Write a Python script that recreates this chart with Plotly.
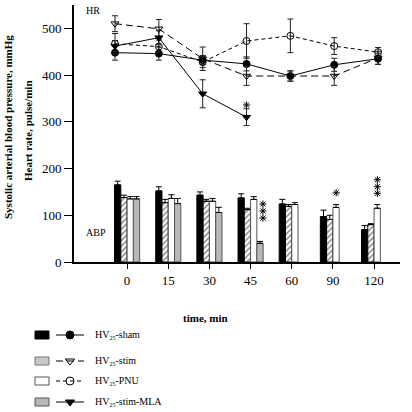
import plotly.graph_objects as go

# ---------------- data ----------------
times = ["0", "15", "30", "45", "60", "90", "120"]
pos = [0, 1, 2, 3, 4, 5, 6]

abp_sham = [165, 152, 143, 137, 124, 97, 69]
abp_sham_err = [8, 9, 7, 9, 10, 14, 9]
abp_stim = [138, 127, 130, 112, 119, 91, 80]
abp_stim_err = [5, 7, 4, 3, 4, 9, 2]
abp_pnu = [135, 136, 130, 134, 123, 117, 115]
abp_pnu_err = [5, 8, 6, 6, 4, 6, 8]
abp_mla = [135, 125, 106, 40, None, None, None]
abp_mla_err = [5, 11, 11, 4, 0, 0, 0]

hr_sham = [448, 446, 432, 424, 398, 422, 435]
hr_sham_err = [16, 14, 10, 15, 11, 14, 12]
hr_stim = [510, 499, 435, 398, 398, 398, 437]
hr_stim_err = [17, 20, 25, 20, 11, 20, 14]
hr_pnu = [467, 461, 428, 473, 484, 462, 449]
hr_pnu_err = [22, 14, 12, 37, 36, 18, 10]
hr_mla = [462, 480, 360, 310, None, None, None]
hr_mla_err = [12, 15, 30, 18, 0, 0, 0]

# significance marks: (x position, y value) of each asterisk
hr_star_x = [3]
hr_star_y = [336]
abp_star_x = [3.3, 3.3, 3.3, 5.08, 6.08, 6.08, 6.08]
abp_star_y = [124, 109, 94, 148, 176, 161, 147]

yticks = [0, 100, 200, 300, 400, 500]
sub25 = "<sub><span style='font-size:6px'>25</span></sub>"
legend_labels = ["HV" + sub25 + "-sham", "HV" + sub25 + "-stim",
                 "HV" + sub25 + "-PNU", "HV" + sub25 + "-stim-MLA"]

SERIF = "Liberation Serif, Times New Roman, serif"
W = H = 412
PX0, PX1, PY0, PY1 = 74, 400, 5, 262  # plot area in pixels

fig = go.Figure()

def up_err(arr):
    return dict(type="data", array=arr, arrayminus=[0] * len(arr), symmetric=False,
                width=3, thickness=1, color="black")

# bars (ABP)
fig.add_trace(go.Bar(x=pos, y=abp_sham, error_y=up_err(abp_sham_err),
                     marker=dict(color="black", line=dict(color="black", width=1))))
fig.add_trace(go.Bar(x=pos, y=abp_stim, error_y=up_err(abp_stim_err),
                     marker=dict(color="white", line=dict(color="black", width=1),
                                 pattern=dict(shape="/", fgcolor="black", bgcolor="white",
                                              size=4, solidity=0.35))))
fig.add_trace(go.Bar(x=pos, y=abp_pnu, error_y=up_err(abp_pnu_err),
                     marker=dict(color="white", line=dict(color="#555555", width=1))))
fig.add_trace(go.Bar(x=pos, y=abp_mla, error_y=up_err(abp_mla_err),
                     marker=dict(color="#b8b8b8", line=dict(color="#555555", width=1))))

# lines (HR)
def sym_err(arr):
    return dict(type="data", array=arr, visible=True, width=3, thickness=1, color="#222222")

line_specs = [
    (hr_sham, hr_sham_err, "solid", "circle"),
    (hr_stim, hr_stim_err, "7px,4px", "triangle-down-open"),
    (hr_pnu, hr_pnu_err, "4px,3px", "circle-open"),
    (hr_mla, hr_mla_err, "solid", "triangle-down"),
]
for vals, errs, dash, sym in line_specs:
    fig.add_trace(go.Scatter(x=pos, y=vals, xaxis="x2", yaxis="y",
                             mode="lines+markers", error_y=sym_err(errs),
                             line=dict(color="black", width=1, dash=dash),
                             marker=dict(symbol=sym, size=7, color="black",
                                         line=dict(color="black", width=1))))

# asterisks (significance marks)
star_marker = dict(symbol="asterisk-open", size=6, color="black",
                   line=dict(color="black", width=1))
fig.add_trace(go.Scatter(x=hr_star_x, y=hr_star_y, xaxis="x2", yaxis="y", mode="markers",
                         marker=star_marker))
fig.add_trace(go.Scatter(x=abp_star_x, y=abp_star_y, xaxis="x", yaxis="y", mode="markers",
                         marker=star_marker))

# legend drawn in a pixel-coordinate overlay axis
leg_rows = [335, 361, 381, 402]
box_fill = ["black", "#c8c8c8", "white", "#b8b8b8"]
box_line = ["black", "#777777", "#555555", "#555555"]
shapes = []
for i, yy in enumerate(leg_rows):
    shapes.append(dict(type="rect", xref="x3", yref="y3", x0=35, x1=49, y0=yy - 4, y1=yy + 4,
                       fillcolor=box_fill[i], line=dict(color=box_line[i], width=1)))
    dash = line_specs[i][2]
    fig.add_trace(go.Scatter(x=[56, 84], y=[yy, yy], xaxis="x3", yaxis="y3", mode="lines",
                             line=dict(color="black", width=1, dash=dash)))
    fig.add_trace(go.Scatter(x=[70], y=[yy], xaxis="x3", yaxis="y3", mode="markers",
                             marker=dict(symbol=line_specs[i][3], size=8, color="black",
                                         line=dict(color="black", width=1))))

annotations = []
for i, yy in enumerate(leg_rows):
    annotations.append(dict(xref="x3", yref="y3", x=93, y=yy, text=legend_labels[i],
                            showarrow=False, xanchor="left", yanchor="middle",
                            font=dict(family=SERIF, size=10, color="black")))

def txt(px, py, text, size, angle=0):
    return dict(xref="x3", yref="y3", x=px, y=py, text=text, textangle=angle,
                showarrow=False, xanchor="center", yanchor="middle",
                font=dict(family=SERIF, size=size, color="black"))

annotations += [
    txt(93, 10, "HR", 10),
    txt(96, 232, "ABP", 10),
    txt(8, 127, "<b>Systolic arterial blood pressure, mmHg</b>", 11, -90),
    txt(28, 131, "<b>Heart rate, pulse/min</b>", 11, -90),
    txt(205, 318, "<b>time, min</b>", 11),
]

xd = [PX0 / W, PX1 / W]
yd = [1 - PY1 / H, 1 - PY0 / H]
fig.update_layout(
    width=W, height=H, margin=dict(l=0, r=0, t=0, b=0),
    paper_bgcolor="white", plot_bgcolor="rgba(0,0,0,0)",
    showlegend=False, barmode="group", bargap=0.39, bargroupgap=0,
    font=dict(family=SERIF, size=13, color="black"),
    xaxis=dict(domain=xd, range=[-1.29, 6.63], tickvals=pos, ticktext=times, showline=True,
               linecolor="black", linewidth=2, ticks="outside", ticklen=5, tickwidth=1,
               tickcolor="black", showgrid=False, zeroline=False, automargin=False,
               tickfont=dict(family=SERIF, size=13, color="black")),
    xaxis2=dict(domain=xd, overlaying="x", anchor="y", range=[-0.935, 6.50], visible=False),
    yaxis=dict(domain=yd, range=[0, 550], tickvals=yticks, showline=True, linecolor="black",
               linewidth=2, ticks="outside", ticklen=8, tickwidth=1, tickcolor="black",
               showgrid=False, zeroline=False, automargin=False,
               tickfont=dict(family=SERIF, size=13, color="black")),
    xaxis3=dict(domain=[0, 1], range=[0, W], visible=False, anchor="y3"),
    yaxis3=dict(domain=[0, 1], range=[H, 0], visible=False, anchor="x3"),
    shapes=shapes, annotations=annotations,
)

fig.write_html("out.html", config={"displayModeBar": False},
               post_script="document.body.style.margin='0';document.body.style.overflow='hidden';")
